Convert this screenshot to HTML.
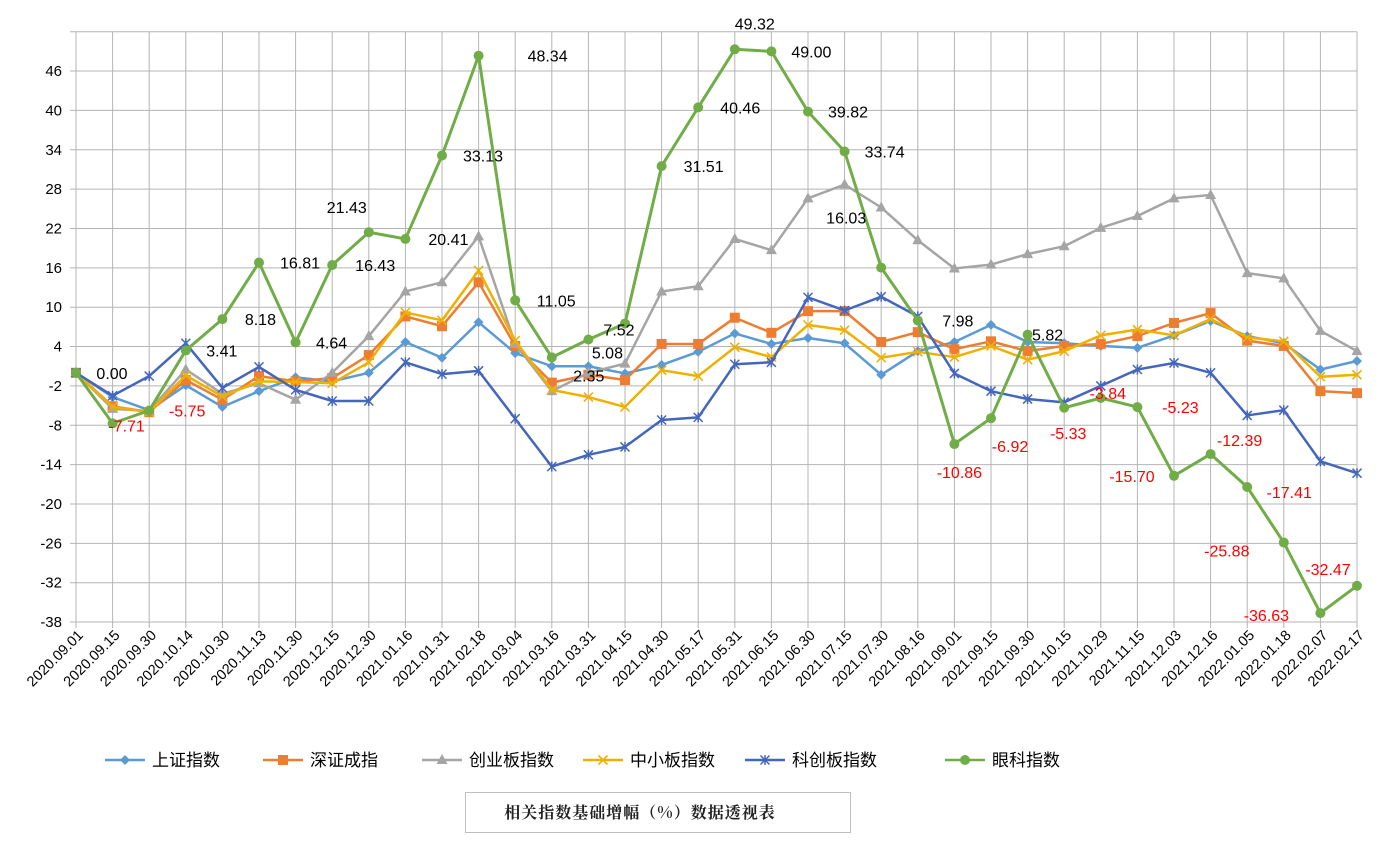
<!DOCTYPE html>
<html><head><meta charset="utf-8"><style>
body{margin:0;background:#fff;font-family:"Liberation Sans","Noto Sans CJK SC",sans-serif;}
svg text{font-family:"Liberation Sans","Noto Sans CJK SC",sans-serif;}
</style></head><body>
<svg id="c" width="1393" height="846"></svg>
<script>
const categories=["2020.09.01","2020.09.15","2020.09.30","2020.10.14","2020.10.30","2020.11.13","2020.11.30","2020.12.15","2020.12.30","2021.01.16","2021.01.31","2021.02.18","2021.03.04","2021.03.16","2021.03.31","2021.04.15","2021.04.30","2021.05.17","2021.05.31","2021.06.15","2021.06.30","2021.07.15","2021.07.30","2021.08.16","2021.09.01","2021.09.15","2021.09.30","2021.10.15","2021.10.29","2021.11.15","2021.12.03","2021.12.16","2022.01.05","2022.01.18","2022.02.07","2022.02.17"];
const yTicks=[46,40,34,28,22,16,10,4,-2,-8,-14,-20,-26,-32,-38];
const shangzheng=[0,-3.7,-5.7,-1.9,-5.2,-2.8,-0.7,-1.3,0,4.7,2.3,7.7,3.0,1.0,1.0,-0.1,1.2,3.2,6.0,4.4,5.3,4.5,-0.3,3.3,4.7,7.3,4.7,4.5,4.1,3.8,5.7,7.9,5.6,4.5,0.5,1.8];
const shenzheng=[0,-5.1,-6.0,-1.1,-4.1,-0.5,-1.3,-0.8,2.7,8.6,7.1,13.8,4.1,-1.5,-0.3,-1.1,4.4,4.4,8.4,6.1,9.4,9.4,4.7,6.2,3.6,4.8,3.3,4.1,4.4,5.6,7.6,9.1,4.9,4.1,-2.8,-3.1];
const chuangye=[0,-5.5,-5.8,0.5,-3.2,-1.6,-4.1,0,5.6,12.4,13.8,20.8,4.4,-2.8,0,1.4,12.4,13.2,20.4,18.7,26.6,28.7,25.2,20.2,15.9,16.5,18.1,19.3,22.1,23.9,26.6,27.1,15.2,14.4,6.4,3.3];
const zhongxiao=[0,-5.2,-6.0,-0.4,-3.6,-1.3,-1.4,-1.6,1.6,9.2,8.0,15.6,4.9,-2.6,-3.7,-5.2,0.4,-0.5,3.9,2.4,7.3,6.5,2.3,3.2,2.4,4.1,2.0,3.3,5.7,6.6,5.7,8.2,5.4,4.8,-0.6,-0.3];
const kechuang=[0,-3.5,-0.5,4.5,-2.3,0.9,-2.6,-4.3,-4.3,1.6,-0.2,0.3,-7.0,-14.3,-12.5,-11.3,-7.2,-6.8,1.3,1.6,11.5,9.5,11.6,8.6,-0.1,-2.8,-4.0,-4.5,-2.0,0.5,1.5,0,-6.5,-5.7,-13.5,-15.3];
const yanke=[0,-7.71,-5.75,3.41,8.18,16.81,4.64,16.43,21.43,20.41,33.13,48.34,11.05,2.35,5.08,7.52,31.51,40.46,49.32,49.00,39.82,33.74,16.03,7.98,-10.86,-6.92,5.82,-5.33,-3.84,-5.23,-15.70,-12.39,-17.41,-25.88,-36.63,-32.47];
const labelOff=[[36,0],[14,2],[38,0],[36,0],[38,0],[41,0],[36,0],[43,0],[-22,-25],[43,0],[41,0],[69,0],[41,0],[37,18],[19,13],[-6,6],[42,0],[42,0],[20,-26],[40,0],[40,0],[40,0],[-35,-50],[40,0],[5,28],[19,28],[20,0],[4,25],[7,-5],[43,0],[-42,0],[29,-14],[42,5],[-57,8],[-54,2],[-29,-17]];
const NS="http://www.w3.org/2000/svg";
const svg=document.getElementById('c');
function mk(t,a,p){const e=document.createElementNS(NS,t);for(const k in a)e.setAttribute(k,a[k]);(p||svg).appendChild(e);return e;}
const x0=76,dx=(1357-76)/35;
const X=i=>x0+i*dx;
const Y=v=>372.8-v*(551/84);
// grid
const grid=mk('g',{});


for(let v=52;v>=-38;v-=6){mk('line',{x1:70,x2:1357,y1:Y(v),y2:Y(v),stroke:'#b4b4b4','stroke-width':1},grid);}
categories.forEach((c,i)=>{mk('line',{x1:X(i),x2:X(i),y1:Y(52),y2:Y(-38)+6,stroke:'#b4b4b4','stroke-width':1},grid);});
yTicks.forEach(v=>{const t=mk('text',{x:62,y:Y(v)+5,'text-anchor':'end','font-size':15,fill:'#000'});t.textContent=v;

});
categories.forEach((c,i)=>{const t=mk('text',{transform:`translate(${X(i)+8},${636}) rotate(-45)`,'text-anchor':'end','font-size':14.5,fill:'#000'});t.textContent=c;

});
function marker(g,type,x,y,col){
 if(type==='diamond')mk('path',{d:`M${x} ${y-5}L${x+5} ${y}L${x} ${y+5}L${x-5} ${y}Z`,fill:col},g);
 else if(type==='square')mk('rect',{x:x-5,y:y-5,width:10,height:10,fill:col},g);
 else if(type==='tri')mk('path',{d:`M${x} ${y-6}L${x+5.5} ${y+4}L${x-5.5} ${y+4}Z`,fill:col},g);
 else if(type==='x')mk('path',{d:`M${x-4.5} ${y-4.5}L${x+4.5} ${y+4.5}M${x+4.5} ${y-4.5}L${x-4.5} ${y+4.5}`,stroke:col,'stroke-width':1.6},g);
 else if(type==='star')mk('path',{d:`M${x-4.5} ${y-4.5}L${x+4.5} ${y+4.5}M${x+4.5} ${y-4.5}L${x-4.5} ${y+4.5}M${x} ${y-5}L${x} ${y+5}`,stroke:col,'stroke-width':1.5},g);
 else mk('circle',{cx:x,cy:y,r:5,fill:col},g);
}
const series=[
 {name:'上证指数',key:'shangzheng',d:shangzheng,col:'#5b9bd5',m:'diamond',lx:110},
 {name:'深证成指',key:'shenzheng',d:shenzheng,col:'#ed7d31',m:'square',lx:268},
 {name:'创业板指数',key:'chuangye',d:chuangye,col:'#a5a5a5',m:'tri',lx:427},
 {name:'中小板指数',key:'zhongxiao',d:zhongxiao,col:'#f0b000',m:'x',lx:588},
 {name:'科创板指数',key:'kechuang',d:kechuang,col:'#4466bb',m:'star',lx:750},
 {name:'眼科指数',key:'yanke',d:yanke,col:'#70ad47',m:'circle',lx:950}];
series.forEach(s=>{
 const g=mk('g',{});
 
 
 mk('polyline',{points:s.d.map((v,i)=>X(i)+','+Y(v)).join(' '),fill:'none',stroke:s.col,'stroke-width':s.key==='yanke'?3:2.5,'stroke-linejoin':'round'},g);
 s.d.forEach((v,i)=>marker(g,s.m,X(i),Y(v),s.col));
 const lg=mk('g',{});
 
 
 mk('line',{x1:s.lx-5,x2:s.lx+35,y1:760,y2:760,stroke:s.col,'stroke-width':2.5},lg);
 marker(lg,s.m,s.lx+15,760,s.col);
 const t=mk('text',{x:s.lx+42,y:766,'font-size':17,fill:'#000'},lg);t.textContent=s.name;
});
const lab=mk('g',{});


yanke.forEach((v,i)=>{const o=labelOff[i];const t=mk('text',{x:X(i)+o[0],y:Y(v)+o[1]+6,'text-anchor':'middle','font-size':16,fill:v<0?'#ff0000':'#000'},lab);t.textContent=v.toFixed(2);});
const tb=mk('g',{});


mk('rect',{x:465.5,y:792.5,width:385,height:40,fill:'#fff',stroke:'#bfbfbf'},tb);
const tt=mk('text',{x:640,y:818,'text-anchor':'middle','font-size':16,'font-weight':'bold',fill:'#222','letter-spacing':'1',style:'font-family:"Noto Serif CJK SC","Liberation Serif",serif'},tb);tt.textContent='相关指数基础增幅（%）数据透视表';
</script>
</body></html>
